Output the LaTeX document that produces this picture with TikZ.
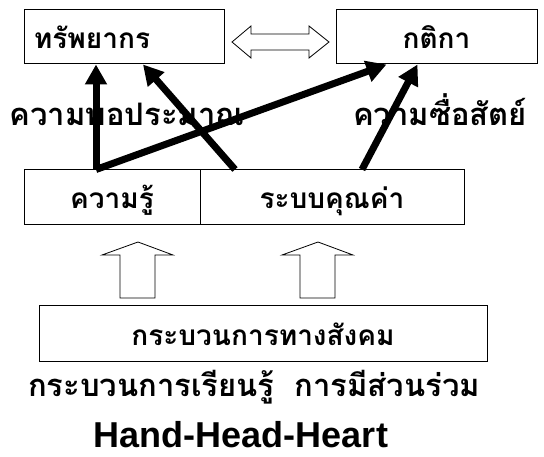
\documentclass[tikz,border=0pt]{standalone}
\usepackage{fontspec}
\setmainfont{Liberation Sans}
\newfontfamily\thaifont[Script=Thai]{Loma}
\usetikzlibrary{arrows.meta,calc}
\tikzset{box/.style={draw=black, line width=1pt, inner sep=0pt, text height=23pt, text depth=0pt, font=\thaifont\bfseries\fontsize{28}{32}\selectfont}}
\tikzset{lbl/.style={inner sep=0pt, anchor=base, font=\thaifont\bfseries\fontsize{31}{36}\selectfont}}
\tikzset{fat/.style={line width=7pt, -{Triangle[length=20pt,width=21pt]}}}
\tikzset{hollow/.style={draw=black, line width=0.8pt, fill=white}}

\begin{document}
\begin{tikzpicture}[x=1pt, y=-1pt]
\useasboundingbox (0,0) rectangle (544,457);
% top row
\node (res) at (124,37) [box, minimum height=54pt, text width=180pt, inner xsep=10pt, align=left] {ทรัพยากร};
\node (rule) at (436.5,37) [box, minimum width=201pt, minimum height=54pt] {กติกา};
\draw[hollow] (232,42) -- (251,26) -- (251,34) -- (309,34) -- (309,26) -- (329,42)
  -- (309,58) -- (309,50) -- (251,50) -- (251,58) -- cycle;
% middle row
\node (know) at (112,197.5) [box, minimum width=176pt, minimum height=55pt] {ความรู้};
\node (value) at (332,197.5) [box, minimum width=264pt, minimum height=55pt] {ระบบคุณค่า};
\node (mod) at (127,126) [lbl] {ความพอประมาณ};
\node (hon) at (440,126) [lbl] {ความซื่อสัตย์};
\coordinate (k) at ($(know.north)+(-16,0)$);
\coordinate (v1) at ($(value.north)+(-97,0)$);
\coordinate (v2) at ($(value.north)+(30,0)$);
\draw[fat] (k) -- (k |- res.south);
\draw[fat] (k) -- ($(rule.south)+(-50,0)$);
\draw[fat] (v1) -- ($(res.south)+(19,0)$);
\draw[fat] (v2) -- ($(rule.south)+(-19,0)$);
% up arrows
\foreach \c in {138,318}
  \draw[hollow] (\c-18,298) -- (\c-18,255) -- (\c-36,255) -- (\c,242) -- (\c+35,255)
    -- (\c+17,255) -- (\c+17,298) -- cycle;
% bottom
\node (soc) at (263,333.5) [box, minimum width=448pt, minimum height=55pt] {กระบวนการทางสังคม};
\node (proc) at (254,396) [lbl] {กระบวนการเรียนรู้\hspace{0.65em}การมีส่วนร่วม};
\node (hhh) at (241,447) [anchor=base, font=\bfseries\fontsize{36}{40}\selectfont, inner sep=0pt] {Hand-Head-Heart};
\end{tikzpicture}
\end{document}
